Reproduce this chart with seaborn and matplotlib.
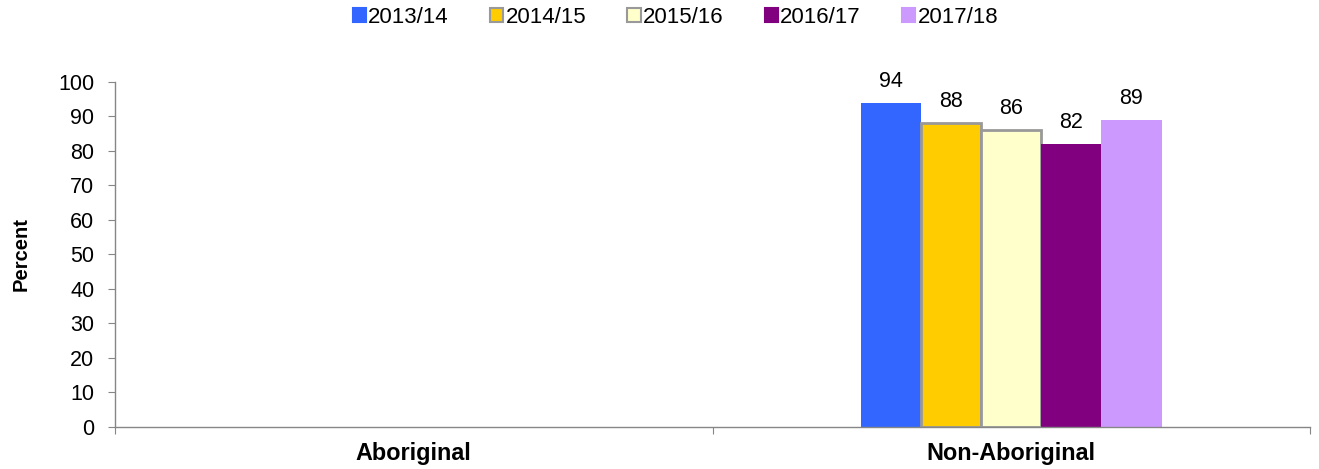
import numpy as np
import pandas as pd
import matplotlib
matplotlib.use('Agg')
import matplotlib.pyplot as plt
import seaborn as sns

# chart data
groups = ['Aboriginal', 'Non-Aboriginal']
years = ['2013/14', '2014/15', '2015/16', '2016/17', '2017/18']
aboriginal = [np.nan, np.nan, np.nan, np.nan, np.nan]
non_aboriginal = [94, 88, 86, 82, 89]

colors = ['#3366FF', '#FFCC00', '#FFFFCC', '#800080', '#CC99FF']
edges = ['none', '#999999', '#999999', 'none', 'none']

rows = []
for yr, a, n in zip(years, aboriginal, non_aboriginal):
    rows.append({'group': 'Aboriginal', 'year': yr, 'value': a})
    rows.append({'group': 'Non-Aboriginal', 'year': yr, 'value': n})
df = pd.DataFrame(rows)

sns.set_style('white')
plt.rcParams['font.family'] = ['Liberation Sans', 'DejaVu Sans']
plt.rcParams['text.color'] = 'black'

fig = plt.figure(figsize=(13.19, 4.69), dpi=100)
ax = fig.add_axes([0.0872, 0.0896, 0.9060, 0.7356])

sns.barplot(data=df, x='group', y='value', hue='year', order=groups,
            hue_order=years, palette=colors, width=0.503, ax=ax,
            saturation=1, errorbar=None, legend=False)

# style bars per year and label values
for cont, ec, c in zip(ax.containers, edges, colors):
    for bar in cont:
        bar.set_facecolor(c)
        if ec != 'none':
            bar.set_edgecolor(ec)
            bar.set_linewidth(2)
        else:
            bar.set_linewidth(0)
    labels = ['' if np.isnan(v) else f'{v:.0f}' for v in cont.datavalues]
    ax.bar_label(cont, labels=labels, padding=8, fontsize=15.5, color='black')

ax.set_ylim(0, 100)
ax.set_yticks(range(0, 101, 10))
ax.set_xlim(-0.5, 1.5)
ax.set_xticks([-0.5, 0.5, 1.5])
ax.set_xticklabels([])
ax.set_xticks([0, 1], minor=True)
ax.set_xticklabels(groups, minor=True, fontweight='bold', fontsize=16.8, color='black')
ax.tick_params(axis='x', which='minor', length=0, pad=11)
ax.tick_params(axis='x', which='major', length=5, direction='out', color='#868686', bottom=True)
ax.tick_params(axis='y', length=5, direction='out', color='#868686', labelsize=15.5,
               labelcolor='black', left=True, pad=10)

ax.set_xlabel('')
ax.set_ylabel('Percent', fontweight='bold', fontsize=14.5, labelpad=20, color='black')

for s in ['top', 'right']:
    ax.spines[s].set_visible(False)
for s in ['left', 'bottom']:
    ax.spines[s].set_color('#868686')
    ax.spines[s].set_linewidth(1)

handles = [plt.Rectangle((0, 0), 1, 1, facecolor=c,
                         edgecolor=(e if e != 'none' else c), linewidth=1.5)
           for c, e in zip(colors, edges)]
fig.legend(handles, years, loc='center', bbox_to_anchor=(0.512, 1 - 17.5 / 469),
           ncol=5, frameon=False, fontsize=16, handlelength=0.6,
           handleheight=0.6, handletextpad=0.1, columnspacing=1.85)

fig.savefig('out.png', dpi=100)
